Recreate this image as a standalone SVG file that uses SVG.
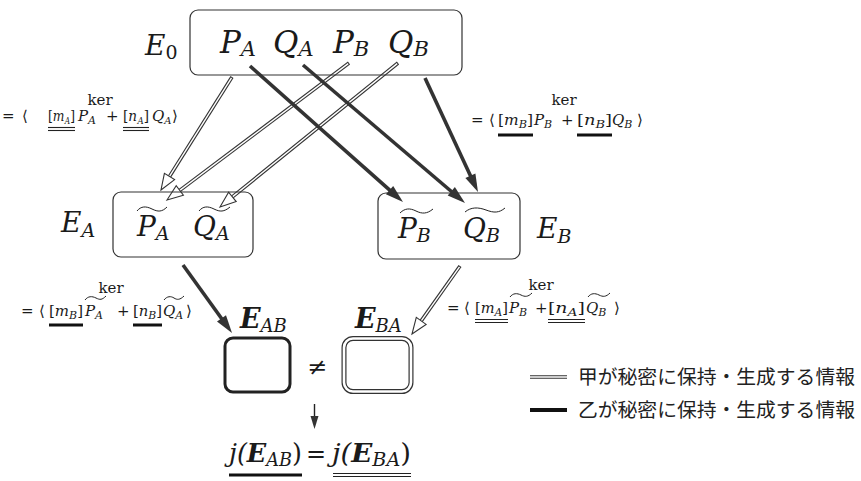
<svg xmlns="http://www.w3.org/2000/svg" width="861" height="481" viewBox="0 0 861 481">
<style>
.m{font-family:'DejaVu Serif',serif;fill:#1a1a1a}
.k{font-family:'DejaVu Serif',serif;fill:#1a1a1a;font-size:15px}
.i{font-style:italic}
.b{font-weight:bold}
.box{fill:none;stroke:#333;stroke-width:1.2}
.blk{stroke:#333;stroke-width:3.6;fill:none}
.dblo{stroke:#333;stroke-width:3.6;fill:none}
.dbli{stroke:#fff;stroke-width:1.4;fill:none}
.bh{fill:#333}
.hh{fill:#fff;stroke:#333;stroke-width:1.1}
.tl{fill:none;stroke:#222;stroke-width:1}
.ul1{stroke:#222;stroke-width:1.1}
.ul3{stroke:#111;stroke-width:3}
.jp{font-family:'Noto Sans CJK JP',sans-serif;font-size:19.8px;fill:#222}
</style>

<g id="connectors">
  <line class="dblo" x1="232" y1="77" x2="169.5" y2="176.45"/>
  <line class="dbli" x1="231.5" y1="77.8" x2="169.5" y2="176.45"/>
  <polygon class="hh" points="161,190 174.6,179.6 164.4,173.3"/>
  <line class="dblo" x1="349" y1="63" x2="179.8" y2="190.4"/>
  <line class="dbli" x1="348.2" y1="63.6" x2="179.8" y2="190.4"/>
  <polygon class="hh" points="167,200 183.4,195.2 176.2,185.6"/>
  <line class="dblo" x1="398" y1="63" x2="232.4" y2="196.9"/>
  <line class="dbli" x1="397.2" y1="63.6" x2="232.4" y2="196.9"/>
  <polygon class="hh" points="220,207 236.2,201.6 228.6,192.2"/>
  <line class="dblo" x1="460" y1="266" x2="421.2" y2="320.9"/>
  <line class="dbli" x1="459.5" y1="266.8" x2="421.2" y2="320.9"/>
  <polygon class="hh" points="412,334 426.1,324.4 416.3,317.4"/>
  <line class="blk" x1="250" y1="66" x2="390.3" y2="190.7"/>
  <polygon class="bh" points="403,202 385.9,194.2 393.2,185.9"/>
  <line class="blk" x1="303" y1="65" x2="452" y2="192"/>
  <polygon class="bh" points="465,203 447.7,195.5 454.9,187.1"/>
  <line class="blk" x1="425" y1="78" x2="470.8" y2="176.6"/>
  <polygon class="bh" points="478,192 465.4,178 475.4,173.4"/>
  <line class="blk" x1="183" y1="265" x2="222.1" y2="319.2"/>
  <polygon class="bh" points="232,333 217,321.6 226,315.2"/>
  <line x1="314.5" y1="404" x2="314.5" y2="418" stroke="#222" stroke-width="1.4"/>
  <polygon class="bh" points="314.5,429 310.5,416 318.5,416"/>
</g>

<g id="node-E0">
  <rect class="box" x="190" y="10" width="272" height="65" rx="8"/>
  <text class="m i" x="145" y="55" font-size="28">E<tspan font-style="normal" font-size="19" dy="4">0</tspan></text>
  <text class="m i" x="220" y="53" font-size="31">P<tspan font-size="21" dy="3">A</tspan></text>
  <text class="m i" x="273" y="53" font-size="31">Q<tspan font-size="21" dy="3">A</tspan></text>
  <text class="m i" x="333" y="53" font-size="31">P<tspan font-size="21" dy="3">B</tspan></text>
  <text class="m i" x="388" y="53" font-size="31">Q<tspan font-size="21" dy="3">B</tspan></text>
</g>

<g id="node-EA">
  <rect class="box" x="113" y="192" width="140" height="65" rx="8"/>
  <text class="m i" x="61" y="232" font-size="28">E<tspan font-size="19" dy="5">A</tspan></text>
  <text class="m i" x="137" y="236" font-size="28">P<tspan font-size="19" dy="4">A</tspan></text>
  <path class="tl" d="M137,211 C141,206 146,206 152,209 S162,212 167,207"/>
  <text class="m i" x="193" y="236" font-size="28">Q<tspan font-size="19" dy="4">A</tspan></text>
  <path class="tl" d="M199,211 C203,206 208,206 214,209 S224,212 230,207"/>
</g>

<g id="node-EB">
  <rect class="box" x="378" y="193" width="142" height="66" rx="8"/>
  <text class="m i" x="398" y="238" font-size="28">P<tspan font-size="19" dy="4">B</tspan></text>
  <path class="tl" d="M400,213 C405,208 410,208 416,211 S427,214 433,209"/>
  <text class="m i" x="463" y="238" font-size="28">Q<tspan font-size="19" dy="4">B</tspan></text>
  <path class="tl" d="M465,212 C471,207 478,207 486,210 S499,213 505,208"/>
  <text class="m i" x="537" y="238" font-size="28">E<tspan font-size="19" dy="5">B</tspan></text>
</g>

<g id="node-EAB">
  <text class="m i b" x="240" y="328" font-size="27">E<tspan font-weight="normal" font-size="18" dy="4">AB</tspan></text>
  <rect x="225" y="338" width="65" height="54" rx="8" fill="none" stroke="#222" stroke-width="3"/>
</g>

<text class="m" x="317" y="375" font-size="24" text-anchor="middle">≠</text>

<g id="node-EBA">
  <text class="m i b" x="355" y="328" font-size="27">E<tspan font-weight="normal" font-size="18" dy="4">BA</tspan></text>
  <rect x="344" y="338.5" width="67" height="53" rx="9" fill="none" stroke="#333" stroke-width="5"/>
  <rect x="344" y="338.5" width="67" height="53" rx="9" fill="none" stroke="#fff" stroke-width="2.6"/>
</g>

<g id="node-j">
  <text class="m i" x="229" y="462" font-size="26" textLength="73" lengthAdjust="spacingAndGlyphs">j(<tspan class="b">E</tspan><tspan font-size="18" dy="4">AB</tspan><tspan dy="-4" font-style="normal">)</tspan></text>
  <text class="m" x="306" y="462" font-size="24">=</text>
  <text class="m i" x="332" y="462" font-size="26" textLength="79" lengthAdjust="spacingAndGlyphs">j(<tspan class="b">E</tspan><tspan font-size="18" dy="4">BA</tspan><tspan dy="-4" font-style="normal">)</tspan></text>
  <line class="ul3" x1="229" y1="475" x2="302" y2="475"/>
  <line class="ul1" x1="333" y1="473.5" x2="411" y2="473.5"/>
  <line class="ul1" x1="333" y1="476.5" x2="411" y2="476.5"/>
</g>

<g id="ker-top-left">
  <text class="k" x="100" y="105" font-size="16" text-anchor="middle">ker</text>
  <text class="k" x="2" y="121">=</text>
  <text class="k" x="22" y="121">⟨</text>
  <text class="k" x="48" y="121" font-size="12.5" textLength="27" lengthAdjust="spacingAndGlyphs">[<tspan class="i">m</tspan><tspan class="i" font-size="9" dx="0.5" dy="3">A</tspan><tspan dy="-3">]</tspan></text>
  <text class="k i" x="78" y="121">P<tspan font-size="11" dy="3">A</tspan></text>
  <text class="k" x="106" y="121">+</text>
  <text class="k" x="123" y="121" font-size="13" textLength="26" lengthAdjust="spacingAndGlyphs">[<tspan class="i">n</tspan><tspan class="i" font-size="9.5" dx="0.5" dy="3">A</tspan><tspan dy="-3">]</tspan></text>
  <text class="k i" x="152" y="121" font-size="14">Q<tspan font-size="10" dy="3">A</tspan></text>
  <text class="k" x="172" y="121">⟩</text>
  <line class="ul1" x1="48" y1="127.5" x2="75" y2="127.5"/>
  <line class="ul1" x1="48" y1="130.5" x2="75" y2="130.5"/>
  <line class="ul1" x1="123" y1="127.5" x2="149" y2="127.5"/>
  <line class="ul1" x1="123" y1="130.5" x2="149" y2="130.5"/>
</g>

<g id="ker-top-right">
  <text class="k" x="564" y="105" font-size="16" text-anchor="middle">ker</text>
  <text class="k" x="471" y="125">=</text>
  <text class="k" x="489" y="125">⟨</text>
  <text class="k" x="498" y="125" textLength="35" lengthAdjust="spacingAndGlyphs">[<tspan class="i">m</tspan><tspan class="i" font-size="11" dy="3">B</tspan><tspan dy="-3">]</tspan></text>
  <text class="k i" x="534" y="125">P<tspan font-size="11" dy="3">B</tspan></text>
  <text class="k" x="561" y="125">+</text>
  <text class="k" x="577" y="125" textLength="35" lengthAdjust="spacingAndGlyphs">[<tspan class="i">n</tspan><tspan class="i" font-size="11" dy="3">B</tspan><tspan dy="-3">]</tspan></text>
  <text class="k i" x="612" y="125">Q<tspan font-size="11" dy="3">B</tspan></text>
  <text class="k" x="637" y="125">⟩</text>
  <line class="ul3" x1="498" y1="135" x2="533" y2="135"/>
  <line class="ul3" x1="577" y1="135" x2="612" y2="135"/>
</g>

<g id="ker-bottom-left">
  <text class="k" x="111" y="293" font-size="16" text-anchor="middle">ker</text>
  <text class="k" x="21" y="316">=</text>
  <text class="k" x="39" y="316">⟨</text>
  <text class="k" x="49" y="316" textLength="34" lengthAdjust="spacingAndGlyphs">[<tspan class="i">m</tspan><tspan class="i" font-size="11" dy="3">B</tspan><tspan dy="-3">]</tspan></text>
  <text class="k i" x="85" y="316">P<tspan font-size="11" dy="3">A</tspan></text>
  <path class="tl" d="M85,300 C88,296 92,296 96,298 S102,300 106,296"/>
  <text class="k" x="117" y="316">+</text>
  <text class="k" x="133" y="316" textLength="29" lengthAdjust="spacingAndGlyphs">[<tspan class="i">n</tspan><tspan class="i" font-size="11" dy="3">B</tspan><tspan dy="-3">]</tspan></text>
  <text class="k i" x="163" y="316">Q<tspan font-size="11" dy="3">A</tspan></text>
  <path class="tl" d="M164,300 C167,296 171,296 174,298 S180,300 184,296"/>
  <text class="k" x="186" y="316">⟩</text>
  <line class="ul3" x1="49" y1="325" x2="83" y2="325"/>
  <line class="ul3" x1="133" y1="325" x2="162" y2="325"/>
</g>

<g id="ker-bottom-right">
  <text class="k" x="541" y="290" font-size="16" text-anchor="middle">ker</text>
  <text class="k" x="447" y="313">=</text>
  <text class="k" x="464" y="313">⟨</text>
  <text class="k" x="475" y="313" textLength="33" lengthAdjust="spacingAndGlyphs">[<tspan class="i">m</tspan><tspan class="i" font-size="11" dy="3">A</tspan><tspan dy="-3">]</tspan></text>
  <text class="k i" x="509" y="313">P<tspan font-size="11" dy="3">B</tspan></text>
  <path class="tl" d="M510,297 C513,293 517,293 521,295 S528,297 532,293"/>
  <text class="k" x="535" y="313" font-size="13">+</text>
  <text class="k" x="548" y="313" textLength="37" lengthAdjust="spacingAndGlyphs">[<tspan class="i">n</tspan><tspan class="i" font-size="11" dy="3">A</tspan><tspan dy="-3">]</tspan></text>
  <text class="k i" x="586" y="313">Q<tspan font-size="11" dy="3">B</tspan></text>
  <path class="tl" d="M588,297 C591,293 595,293 599,295 S606,297 610,293"/>
  <text class="k" x="614" y="313">⟩</text>
  <line class="ul1" x1="475" y1="319.5" x2="508" y2="319.5"/>
  <line class="ul1" x1="475" y1="322.5" x2="508" y2="322.5"/>
  <line class="ul1" x1="548" y1="319.5" x2="585" y2="319.5"/>
  <line class="ul1" x1="548" y1="322.5" x2="585" y2="322.5"/>
</g>

<g id="legend">
  <line class="dblo" x1="530" y1="377" x2="567" y2="377"/>
  <line class="dbli" x1="530" y1="377" x2="567" y2="377"/>
  <text class="jp" x="578" y="384">甲が秘密に保持・生成する情報</text>
  <line x1="530" y1="410" x2="567" y2="410" stroke="#111" stroke-width="4"/>
  <text class="jp" x="578" y="417">乙が秘密に保持・生成する情報</text>
</g>
</svg>
